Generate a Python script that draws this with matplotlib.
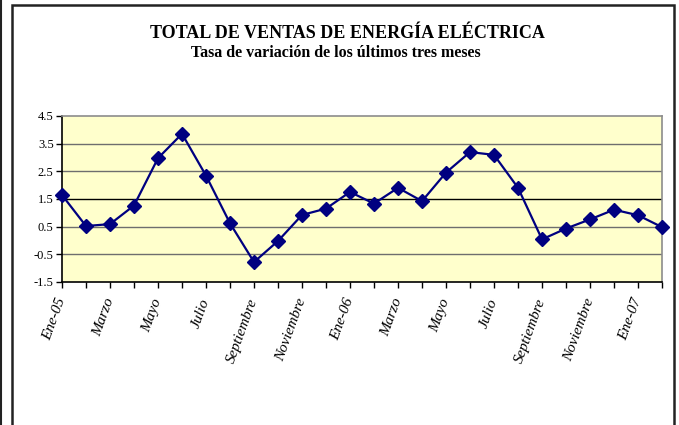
import matplotlib
matplotlib.use("Agg")
import matplotlib.pyplot as plt
from matplotlib.lines import Line2D
from matplotlib.patches import Rectangle

TITLE = "TOTAL DE VENTAS DE ENERGÍA ELÉCTRICA"
SUBTITLE = "Tasa de variación de los últimos tres meses"

# meses (ene-05 .. feb-07)
months = [
    "Ene-05", "Febrero", "Marzo", "Abril", "Mayo", "Junio", "Julio", "Agosto",
    "Septiembre", "Octubre", "Noviembre", "Diciembre",
    "Ene-06", "Febrero", "Marzo", "Abril", "Mayo", "Junio", "Julio", "Agosto",
    "Septiembre", "Octubre", "Noviembre", "Diciembre",
    "Ene-07", "Febrero",
]
# tasa de variacion (%)
rates = [
    1.64, 0.52, 0.59, 1.26, 2.97, 3.85, 2.34, 0.62, -0.78, -0.02, 0.92, 1.15,
    1.75, 1.33, 1.90, 1.42, 2.45, 3.19, 3.09, 1.90, 0.04, 0.43, 0.76, 1.11,
    0.91, 0.48,
]
y_ticks = [-1.5, -0.5, 0.5, 1.5, 2.5, 3.5, 4.5]

NAVY = "#000080"


def main():
    plt.rcParams["font.family"] = ["Liberation Serif", "DejaVu Serif"]
    fig = plt.figure(figsize=(6.79, 4.25), dpi=100)
    ax = fig.add_axes([0.0913, 0.3365, 0.8837, 0.391])

    x = list(range(len(rates)))
    ax.set_facecolor("#FFFFCC")

    # lineas de la rejilla
    for v in y_ticks[1:-1]:
        col = "black" if v == 1.5 else "#6e6e6e"
        ax.axhline(v, color=col, lw=1.0, zorder=1)

    ax.plot(x, rates, color=NAVY, lw=1.6, marker="D", markersize=7,
            markerfacecolor=NAVY, markeredgecolor=NAVY, zorder=3, clip_on=False)

    ax.set_xlim(0, len(rates) - 1)
    ax.set_ylim(-1.5, 4.5)
    ax.set_yticks(y_ticks)
    ax.set_yticklabels([f"{v:.1f}" for v in y_ticks], fontsize=9)
    ax.set_xticks(x)
    ax.set_xticklabels([m if i % 2 == 0 else "" for i, m in enumerate(months)],
                       rotation=70, ha="right", va="center", rotation_mode="anchor",
                       fontsize=11, fontstyle="italic")
    ax.tick_params(axis="x", length=4, width=1, pad=8, direction="out")
    ax.tick_params(axis="y", length=4, width=1, pad=2, direction="out")

    for side in ("top", "right"):
        ax.spines[side].set_color("#8c8c8c")
        ax.spines[side].set_linewidth(1.2)
    for side in ("left", "bottom"):
        ax.spines[side].set_color("black")
        ax.spines[side].set_linewidth(1.2)

    fig.text(0.511, 0.922, TITLE, ha="center", va="center",
             fontsize=13, fontweight="bold")
    fig.text(0.495, 0.875, SUBTITLE, ha="center", va="center",
             fontsize=11.5, fontweight="bold")

    # marco del grafico
    fig.patches.append(Rectangle((12 / 679, -0.05), 662 / 679, 1.05 - 5 / 425,
                                 transform=fig.transFigure, fill=False,
                                 edgecolor="#222222", lw=1.8))
    fig.lines.append(Line2D([1 / 679, 1 / 679], [0, 1], transform=fig.transFigure,
                            color="#222222", lw=1.5))

    fig.savefig("out.png", dpi=100)
    plt.close(fig)


if __name__ == "__main__":
    main()
